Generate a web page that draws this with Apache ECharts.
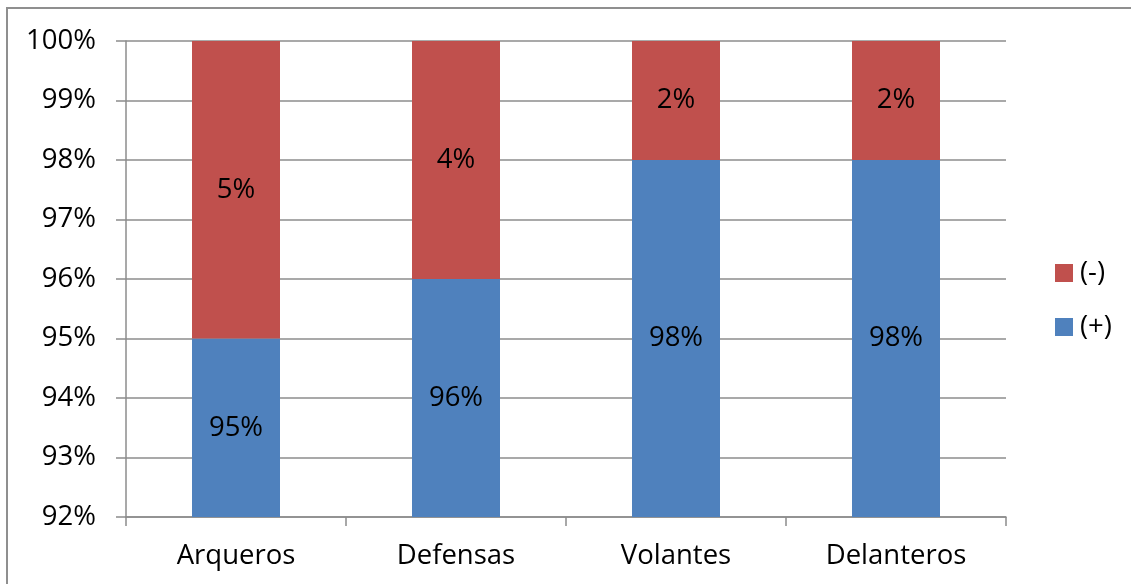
<!DOCTYPE html>
<html>
<head>
<meta charset="utf-8">
<script src="https://cdn.jsdelivr.net/npm/echarts@6/dist/echarts.min.js"></script>
<style>
  html, body { margin: 0; padding: 0; background: #fff; overflow: hidden; }
  #chart { width: 1131px; height: 584px; position: relative; }
  #frame { position: absolute; left: 6px; top: 7px; width: 1300px; height: 700px;
           border: 2px solid #8f8f8f; box-sizing: border-box; pointer-events: none; }
</style>
</head>
<body>
<div id="chart"></div>
<div id="frame"></div>
<script>
// Share of positive / negative by position
const categories = ['Arqueros', 'Defensas', 'Volantes', 'Delanteros'];
const positive = [95, 96, 98, 98];
const negative = [5, 4, 2, 2];
const yTicks = { min: 92, max: 100, step: 1 };

const FONT = '"Open Sans", "Liberation Sans", sans-serif';
const SIZE = 27.5;
const chart = echarts.init(document.getElementById('chart'));

chart.setOption({
  animation: false,
  textStyle: { fontFamily: FONT },
  grid: { left: 126, right: 125, top: 41, bottom: 67, containLabel: false },
  legend: {
    orient: 'vertical',
    left: 1050,
    top: 252,
    itemWidth: 18,
    itemHeight: 18,
    itemGap: 22,
    icon: 'rect',
    data: ['(-)', '(+)'],
    textStyle: { fontFamily: FONT, fontSize: SIZE, color: '#000', padding: [0, 0, 0, 2], lineHeight: 32 }
  },
  xAxis: {
    type: 'category',
    data: categories,
    axisLine: { lineStyle: { color: '#8c8c8c', width: 1.5 } },
    axisTick: { show: true, length: 9, lineStyle: { color: '#8c8c8c', width: 1.5 } },
    axisLabel: { color: '#000', fontSize: SIZE, fontFamily: FONT, margin: 25 }
  },
  yAxis: {
    type: 'value',
    min: yTicks.min,
    max: yTicks.max,
    interval: yTicks.step,
    axisLine: { show: true, lineStyle: { color: '#8c8c8c', width: 1.5 } },
    axisTick: { show: true, length: 10, lineStyle: { color: '#8c8c8c', width: 1.5 } },
    splitLine: { show: true, lineStyle: { color: '#8c8c8c', width: 1.5 } },
    axisLabel: { color: '#000', fontSize: SIZE, fontFamily: FONT, margin: 30, formatter: '{value}%' }
  },
  series: [
    {
      name: '(+)',
      type: 'bar',
      stack: 'total',
      barWidth: '40%',
      data: positive,
      itemStyle: { color: '#4f81bd' },
      label: { show: true, position: 'inside', formatter: '{c}%', color: '#000', fontSize: SIZE, fontFamily: FONT }
    },
    {
      name: '(-)',
      type: 'bar',
      stack: 'total',
      barWidth: '40%',
      data: negative,
      itemStyle: { color: '#c0504d' },
      label: { show: true, position: 'inside', formatter: '{c}%', color: '#000', fontSize: SIZE, fontFamily: FONT }
    }
  ]
});
</script>
</body>
</html>
